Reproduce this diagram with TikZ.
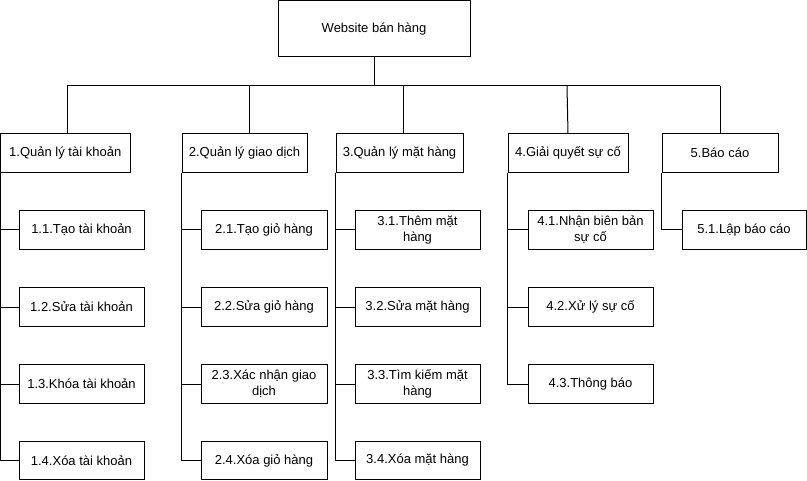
\documentclass[tikz,border=0pt]{standalone}
\usepackage{fontspec}
\setmainfont{Liberation Sans}
\begin{document}
\begin{tikzpicture}[x=0.75pt,y=-0.75pt,line width=0.75pt,
  box/.style={draw=black,inner sep=0pt,align=center,font=\fontsize{9.75}{12}\selectfont,minimum height=38.5*0.75pt},
  conn/.style={draw=black,line width=0.75pt}]
\useasboundingbox (0,0) rectangle (807,481);
% root
\node[box,minimum width=192*0.75pt,minimum height=56.5*0.75pt] (root) at (374,28.75) {Website bán hàng};
% level 1
\node[box,minimum width=129.5*0.75pt] (b1) at (65.25,153) {1.Quản lý tài khoản};
\node[box,minimum width=125*0.75pt] (b2) at (244.5,153) {2.Quản lý giao dịch};
\node[box,minimum width=127*0.75pt] (b3) at (399.5,153) {3.Quản lý mặt hàng};
\node[box,minimum width=120*0.75pt] (b4) at (568,153) {4.Giải quyết sự cố};
\node[box,minimum width=116*0.75pt] (b5) at (720,153) {5.Báo cáo};
% level 2
\tikzset{c1/.style={box,minimum width=125*0.75pt},c2/.style={box,minimum width=126*0.75pt},
  c3/.style={box,minimum width=125*0.75pt},c4/.style={box,minimum width=125*0.75pt},c5/.style={box,minimum width=124*0.75pt}}
\node[c1] (a11) at (81.5,230) {1.1.Tạo tài khoản};
\node[c1] (a12) at (81.5,307) {1.2.Sửa tài khoản};
\node[c1] (a13) at (81.5,384) {1.3.Khóa tài khoản};
\node[c1] (a14) at (81.5,460.5) {1.4.Xóa tài khoản};
\node[c2] (a21) at (264,230) {2.1.Tạo giỏ hàng};
\node[c2] (a22) at (264,307) {2.2.Sửa giỏ hàng};
\node[c2] (a23) at (264,384) {2.3.Xác nhận giao\\dịch};
\node[c2] (a24) at (264,460.5) {2.4.Xóa giỏ hàng};
\node[c3] (a31) at (417.5,230) {3.1.Thêm mặt\\hàng};
\node[c3] (a32) at (417.5,307) {3.2.Sửa mặt hàng};
\node[c3] (a33) at (417.5,384) {3.3.Tìm kiếm mặt\\hàng};
\node[c3] (a34) at (417.5,460.5) {3.4.Xóa mặt hàng};
\node[c4] (a41) at (590.5,230) {4.1.Nhận biên bản\\sự cố};
\node[c4] (a42) at (590.5,307) {4.2.Xử lý sự cố};
\node[c4] (a43) at (590.5,384) {4.3.Thông báo};
\node[c5] (a51) at (744,230) {5.1.Lập báo cáo};
% bus
\coordinate (bus) at (374,86);
\draw[conn] (root.south) -- (bus);
\draw[conn] (67,86) -- (720,86);
\draw[conn] (67,86) -- (67,86 |- b1.north);
\draw[conn] (249,86) -- (249,86 |- b2.north);
\draw[conn] (403,86) -- (403,86 |- b3.north);
\draw[conn] (567,86) -- (b4.north);
\draw[conn] (720,86) -- (b5.north);
% spines
\foreach \c in {a11,a12,a13,a14} \draw[conn] (b1.south west) |- (\c.west);
\foreach \c in {a21,a22,a23,a24} \draw[conn] (b2.south west) |- (\c.west);
\foreach \c in {a31,a32,a33,a34} \draw[conn] (b3.south west) |- (\c.west);
\foreach \c in {a41,a42,a43} \draw[conn] (b4.south west) |- (\c.west);
\draw[conn] (b5.south west) |- (a51.west);
\end{tikzpicture}
\end{document}
